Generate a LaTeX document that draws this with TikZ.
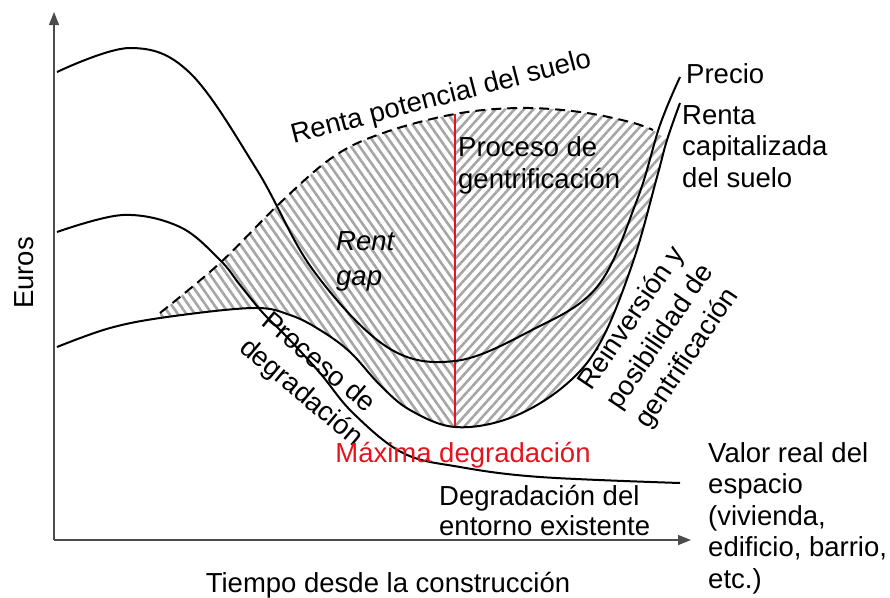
\documentclass[tikz,border=0pt]{standalone}
\usepackage{fontspec}
\setmainfont{Liberation Sans}
\usetikzlibrary{arrows.meta,patterns.meta}
\definecolor{rojo}{RGB}{228,20,30}

\begin{document}
\begin{tikzpicture} [x = 1pt, y = -1pt,
	lbl/.style = {font = \fontsize{27.5}{31.5}\selectfont, inner sep = 0pt},
	curva/.style = {line width = 2pt},
	eje/.style = {line width = 1.4pt, black!70, -{Triangle[length = 13pt, width = 10pt]}},
	rayado/.style = {pattern = {Lines[angle = #1, distance = 7pt, line width = 2.6pt]}, pattern color = gray!70},
	]
	\useasboundingbox (0, 0) rectangle (890, 597);
	\coordinate (o) at (54, 540);
	\coordinate (ytop) at (54, 12);
	\coordinate (xend) at (691, 540);
% zona rayada (rent gap)
	\begin{scope}
	\clip (0, 0) rectangle (455, 597);
	\fill [rayado = -55] plot [smooth, tension = 0.6] coordinates {(160, 313) (220, 263) (280, 203) (333, 157) (383, 133) (455, 114) (520, 108) (580, 112) (630, 122) (653, 130)}
		-- plot [smooth, tension = 0.6] coordinates {(667, 140) (657, 177) (633, 262) (600, 343) (563, 387) (510, 418) (455, 427) (410, 410) (380, 385) (350, 352) (320, 330) (290, 315) (253, 308) (167, 317) (160, 318)} -- cycle;
	\end{scope}
	\begin{scope}
	\clip (455, 0) rectangle (890, 597);
	\fill [rayado = 48] plot [smooth, tension = 0.6] coordinates {(160, 313) (220, 263) (280, 203) (333, 157) (383, 133) (455, 114) (520, 108) (580, 112) (630, 122) (653, 130)}
		-- plot [smooth, tension = 0.6] coordinates {(667, 140) (657, 177) (633, 262) (600, 343) (563, 387) (510, 418) (455, 427) (410, 410) (380, 385) (350, 352) (320, 330) (290, 315) (253, 308) (167, 317) (160, 318)} -- cycle;
	\end{scope}
	 \draw [eje] (o) -- (ytop);
	 \draw [eje] (o) -- (xend);
	 \draw [rojo, line width = 1.5pt] (455, 114) -- (455, 427);
% renta potencial
	 \draw [curva, dash pattern = on 10pt off 6pt] plot [smooth, tension = 0.6] coordinates {(160, 313) (220, 263) (280, 203) (333, 157) (383, 133) (455, 114) (520, 108) (580, 112) (630, 122) (653, 130)};
% precio
	 \draw [curva] plot [smooth, tension = 0.6] coordinates {(57, 72) (130, 48) (190, 73) (257, 170) (313, 270) (387, 347) (455, 361) (530, 331) (597, 287) (637, 200) (660, 125) (680, 77)};
% renta capitalizada
	 \draw [curva] plot [smooth, tension = 0.6] coordinates {(57, 347) (110, 328) (167, 317) (253, 308) (290, 315) (320, 330) (350, 352) (380, 385) (410, 410) (455, 427) (510, 418) (563, 387) (600, 343) (633, 262) (657, 177) (667, 140) (680, 103)};
% valor real
	 \draw [curva] plot [smooth, tension = 0.6] coordinates {(57, 232) (123, 215) (180, 227) (220, 260) (240, 285) (263, 313) (287, 337) (320, 373) (353, 413) (403, 453) (460, 467) (540, 477) (680, 483)};
	\node [lbl, rotate = 90, anchor = base] (euros) at (33, 273) {Euros};
	\node [lbl, anchor = base] (tiempo) at (388, 592) {Tiempo desde la construcción};
	\node [lbl, rotate = 14.5, anchor = base] (potencial) at (443, 105) {Renta potencial del suelo};
	\node [lbl, anchor = base west] (precio) at (686, 83) {Precio};
% (base = ultima linea)
		\node [lbl, anchor = base west, align = left] (rcap) at (682, 187) {Renta\\capitalizada\\del suelo};
		\node [lbl, anchor = base west, align = left] (gentri) at (458, 188) {Proceso de\\gentrificación};
	\node [lbl, anchor = base west, align = left, font = \fontsize{27.5}{31.5}\selectfont\itshape] (gap) at (336, 285) {Rent\\[3.5pt]gap};
	\node [lbl, rotate = -40, anchor = base west, align = left] (degrad) at (238, 350) {Proceso de\\[2.5pt]degradación};
	\node [lbl, rotate = 56, anchor = base west, align = left] (reinv) at (648, 430) {Reinversión y\\[2.5pt]posibilidad de\\[2.5pt]gentrificación};
	\node [lbl, rojo, anchor = base] (maxima) at (463, 462) {Máxima degradación};
		\node [lbl, anchor = base west, align = left] (entorno) at (439, 535) {Degradación del\\[-1.5pt]entorno existente};
		\node [lbl, anchor = base west, align = left] (valor) at (708, 588) {Valor real del\\espacio\\(vivienda,\\edificio, barrio,\\etc.)};
	\end{tikzpicture}
\end{document}
